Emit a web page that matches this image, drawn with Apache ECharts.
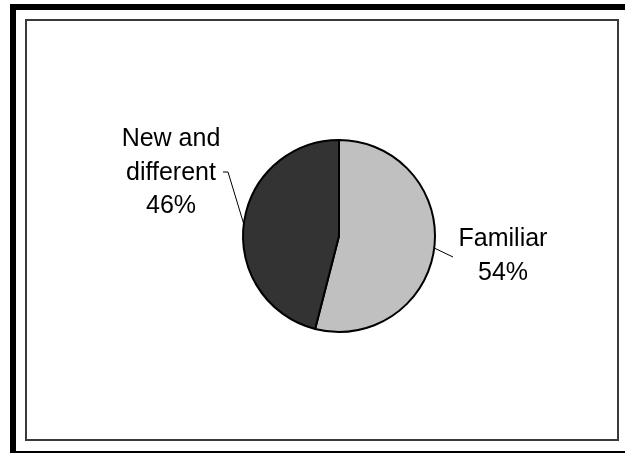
<!DOCTYPE html>
<html>
<head>
<meta charset="utf-8">
<script src="https://cdn.jsdelivr.net/npm/echarts@6/dist/echarts.min.js"></script>
<style>
  html, body { margin: 0; padding: 0; background: #fff; }
  #chart { width: 625px; height: 453px; }
</style>
</head>
<body>
<div id="chart"></div>
<script>
// slice data, in drawing order (clockwise from 12 o'clock)
const categories = ['Familiar', 'New and\ndifferent']
const shares = [54, 46]
const sliceColors = ['#c0c0c0', '#333333']

// where each label block sits and how its leader line bends
const labelSpots = [
  { x: 503, y: 256, line: [[-50, 1], [-50, 1]] },
  { x: 171, y: 173, line: [[57, -1], [52, -1]] }
]

const chart = echarts.init(document.getElementById('chart'))

const option = {
  animation: false,
  backgroundColor: '#fff',
  graphic: [
    // outer black frame (thick left/top, thin bottom)
    { type: 'rect', shape: { x: 10, y: 4, width: 6, height: 449 }, style: { fill: '#000' }, silent: true },
    { type: 'rect', shape: { x: 10, y: 4, width: 615, height: 6 }, style: { fill: '#000' }, silent: true },
    { type: 'rect', shape: { x: 10, y: 451, width: 615, height: 2 }, style: { fill: '#000' }, silent: true },
    // inner plot frame
    {
      type: 'rect',
      shape: { x: 26, y: 20, width: 592, height: 420 },
      style: { fill: 'none', stroke: '#3a3a3a', lineWidth: 2 },
      silent: true
    }
  ],
  series: [
    {
      type: 'pie',
      center: [339, 236],
      radius: [0, 96],
      startAngle: 90,
      clockwise: true,
      avoidLabelOverlap: false,
      data: categories.map((name, i) => ({
        name,
        value: shares[i],
        itemStyle: { color: sliceColors[i] }
      })),
      itemStyle: { borderColor: '#000', borderWidth: 2 },
      label: {
        show: true,
        position: 'outside',
        formatter: '{b}\n{d}%',
        fontFamily: 'Arial, "Liberation Sans", sans-serif',
        fontSize: 25,
        lineHeight: 33.5,
        color: '#000',
        align: 'center'
      },
      labelLine: {
        show: true,
        length: 10,
        length2: 10,
        lineStyle: { color: '#000', width: 1 }
      },
      labelLayout(params) {
        const spot = labelSpots[params.dataIndex]
        const edge = params.labelLinePoints ? params.labelLinePoints[0] : [spot.x, spot.y]
        return {
          x: spot.x,
          y: spot.y,
          align: 'center',
          verticalAlign: 'middle',
          labelLinePoints: [
            edge,
            [spot.x + spot.line[0][0], spot.y + spot.line[0][1]],
            [spot.x + spot.line[1][0], spot.y + spot.line[1][1]]
          ]
        }
      }
    }
  ]
}

chart.setOption(option)
</script>
</body>
</html>
